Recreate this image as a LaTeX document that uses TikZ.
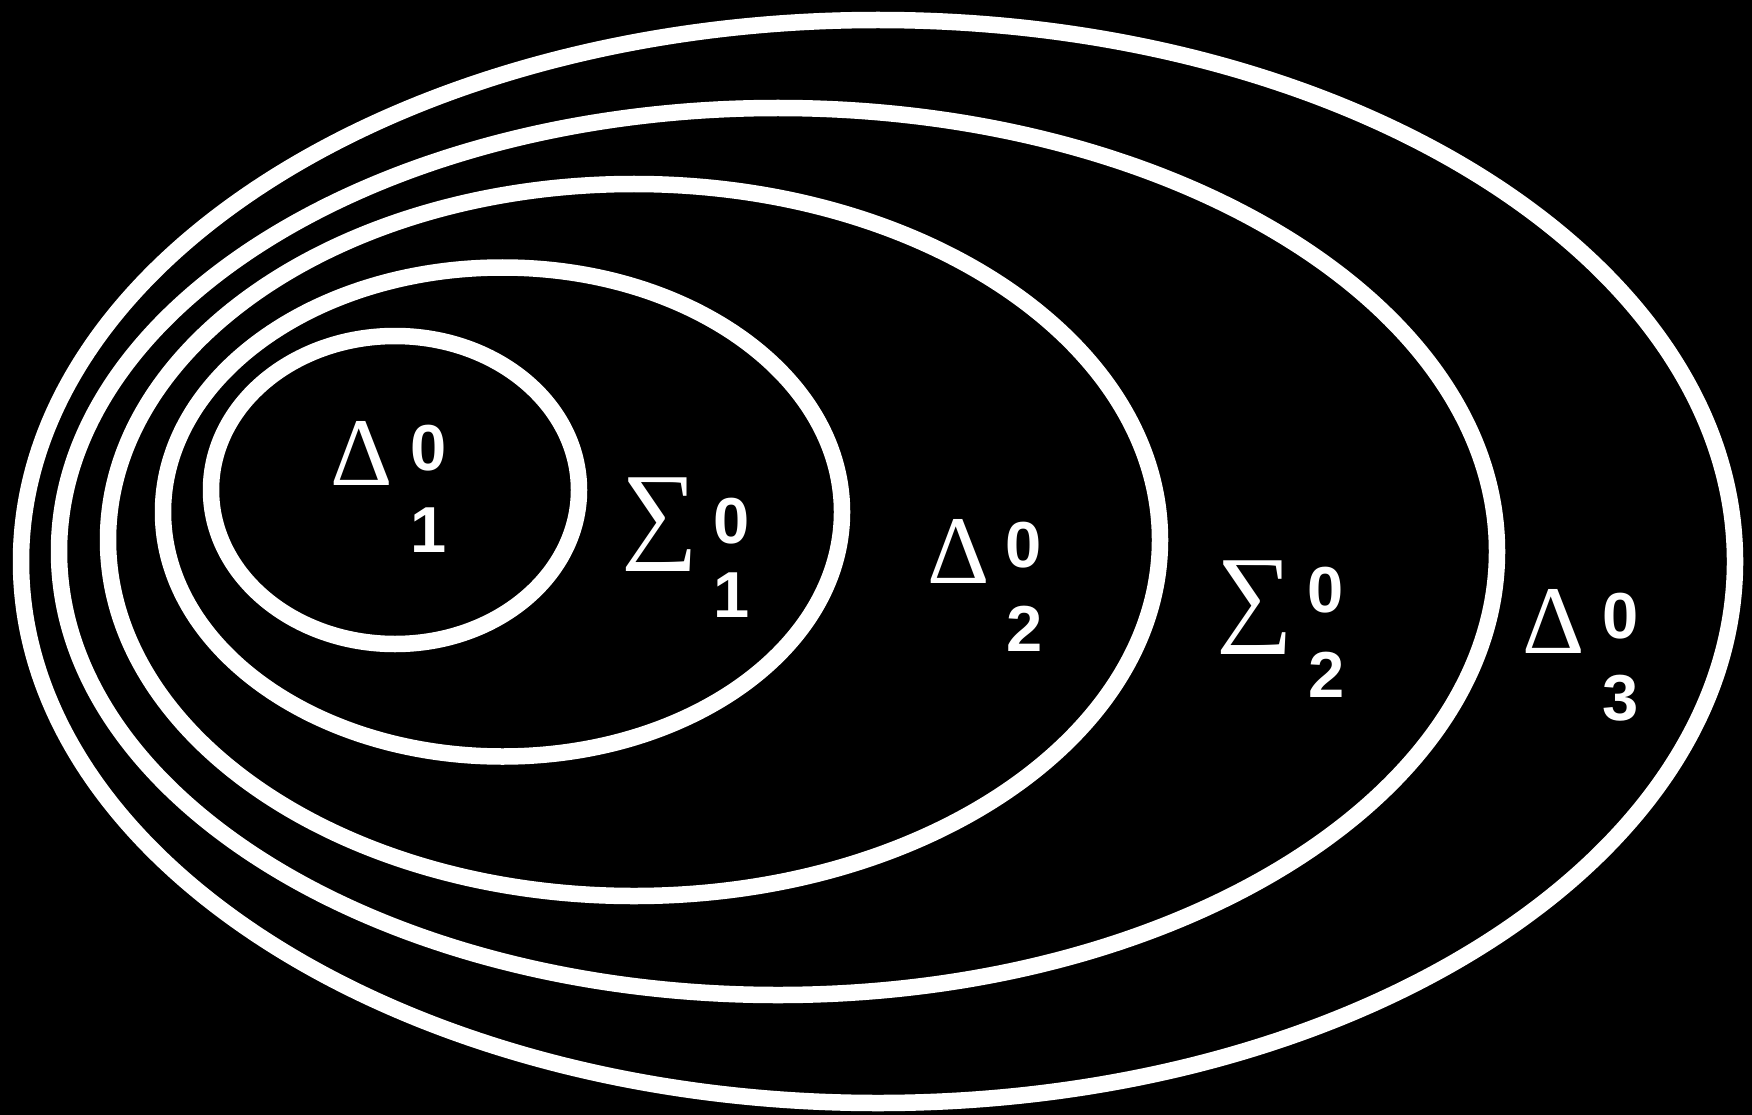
\documentclass[tikz,border=0pt]{standalone}
\usepackage{fontspec}
\newfontfamily\symfont{Liberation Serif}
\newfontfamily\digfont{Liberation Sans}
\begin{document}
\begin{tikzpicture}[x=1pt,y=-1pt,
  ring/.style={draw=white,line width=16.5pt},
  greek/.style={text=white,inner sep=0pt,anchor=center,font=\symfont\fontsize{97}{97}\selectfont},
  bigsum/.style={text=white,inner sep=0pt,anchor=center,font=\symfont\fontsize{108}{108}\selectfont},
  digit/.style={text=white,inner sep=0pt,anchor=center,font=\digfont\bfseries\fontsize{65}{65}\selectfont}]
\useasboundingbox (0,0) rectangle (1752,1115);
\fill[black] (0,0) rectangle (1752,1115);
\draw[ring] (878,561.5) ellipse [x radius=857pt, y radius=541.5pt];
\draw[ring] (778,551.5) ellipse [x radius=719pt, y radius=443.5pt];
\draw[ring] (634,540) ellipse [x radius=526pt, y radius=356pt];
\draw[ring] (502.5,512) ellipse [x radius=339.5pt, y radius=244.5pt];
\draw[ring] (395,490) ellipse [x radius=184pt, y radius=154pt];
% labels
\node[greek] (d1) at (362,453.5) {Δ};
\node[digit] (d1sup) at (429,448) {0};
\node[digit] (d1sub) at (429,530) {1};
\node[bigsum] (s1) at (660,525) {∑};
\node[digit] (s1sup) at (732,521) {0};
\node[digit] (s1sub) at (732,595) {1};
\node[greek] (d2) at (958.5,551.5) {Δ};
\node[digit] (d2sup) at (1024,545) {0};
\node[digit] (d2sub) at (1025,628.5) {2};
\node[bigsum] (s2) at (1255,607.5) {∑};
\node[digit] (s2sup) at (1326,590.5) {0};
\node[digit] (s2sub) at (1327,675) {2};
\node[greek] (d3) at (1553.5,621.5) {Δ};
\node[digit] (d3sup) at (1621,616.5) {0};
\node[digit] (d3sub) at (1621,698.5) {3};
\end{tikzpicture}
\end{document}
